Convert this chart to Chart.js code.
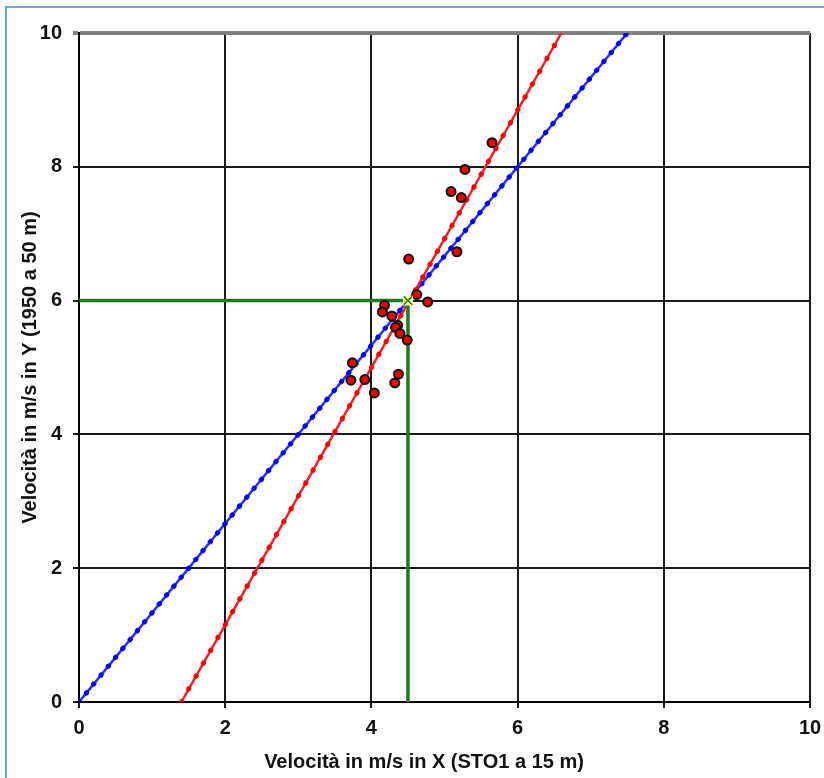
<!DOCTYPE html>
<html>
<head>
<meta charset="utf-8">
<script src="https://cdn.jsdelivr.net/npm/chart.js@4.4.1/dist/chart.umd.min.js"></script>
<style>
  html, body { margin: 0; padding: 0; background: #fff; }
  #wrap { position: relative; width: 824px; height: 778px; overflow: hidden; }
  #frame { position: absolute; left: 5px; top: 6px; width: 840px; height: 800px;
           border-left: 2px solid #6fa3dc; border-top: 2px solid #6fa3dc; }
  canvas { position: absolute; left: 0; top: 0; }
</style>
</head>
<body>
<div id="wrap">
  <div id="frame"></div>
  <canvas id="chart" width="824" height="778"></canvas>
</div>
<script>
// axis ticks
const xTicks = [0, 2, 4, 6, 8, 10];
const yTicks = [0, 2, 4, 6, 8, 10];

// regression lines (endpoints)
const blueX = [0, 7.5];
const blueY = [0, 10];
const redX = [1.4, 6.6];
const redY = [0, 10];

// green guide at the chosen point
const guideX = [0, 4.5, 4.5];
const guideY = [6, 6, 0];
const markX = [4.5];
const markY = [6];

// measured pairs
const obsX = [5.65, 5.28, 5.09, 5.23, 4.51, 5.17, 4.62, 4.77, 4.18, 4.15, 4.28,
              4.36, 4.33, 4.39, 4.49, 3.74, 3.72, 3.91, 4.37, 4.32, 4.04];
const obsY = [8.36, 7.96, 7.63, 7.54, 6.62, 6.73, 6.09, 5.98, 5.93, 5.83, 5.77,
              5.63, 5.60, 5.51, 5.41, 5.07, 4.81, 4.82, 4.90, 4.77, 4.62];

const pts = (xs, ys) => xs.map((x, i) => ({ x: x, y: ys[i] }));

const FONT = "'Liberation Sans', Arial, sans-serif";

// draw the x axis title a bit left of the plot centre, as in the source
const xTitlePlugin = {
    id: 'xTitle',
    afterDraw(chart) {
        const ctx = chart.ctx;
        ctx.save();
        ctx.font = 'bold 20px ' + FONT;
        ctx.fillStyle = '#111';
        ctx.textAlign = 'center';
        ctx.textBaseline = 'middle';
        ctx.fillText('Velocità in m/s in X (STO1 a 15 m)', 424, 762);
        ctx.restore();
    }
};

const ctx = document.getElementById('chart').getContext('2d');

new Chart(ctx, {
    type: 'scatter',
    data: {
        datasets: [
            {
                label: 'punto',
                data: pts(markX, markY),
                pointStyle: 'rect',
                pointRadius: 7,
                backgroundColor: '#ffff99',
                borderWidth: 0,
                order: 1
            },
            {
                label: 'punto x',
                data: pts(markX, markY),
                pointStyle: 'crossRot',
                pointRadius: 6,
                borderColor: '#1a7a1a',
                borderWidth: 1.5,
                order: 0
            },
            {
                label: 'misure',
                data: pts(obsX, obsY),
                pointRadius: 4.5,
                backgroundColor: '#ee0000',
                borderColor: '#111',
                borderWidth: 2,
                order: 2
            },
            {
                label: 'guida',
                data: pts(guideX, guideY),
                showLine: true,
                borderColor: '#1a7d1a',
                borderWidth: 3.5,
                pointRadius: 0,
                order: 3
            },
            {
                label: 'rossa punti',
                data: pts(redX, redY),
                showLine: true,
                borderColor: '#ff0000',
                borderWidth: 5,
                borderDash: [0.5, 14.3],
                borderCapStyle: 'round',
                pointRadius: 0,
                order: 4
            },
            {
                label: 'rossa',
                data: pts(redX, redY),
                showLine: true,
                borderColor: '#ff1a1a',
                borderWidth: 2.5,
                pointRadius: 0,
                order: 5
            },
            {
                label: 'blu punti',
                data: pts(blueX, blueY),
                showLine: true,
                borderColor: '#0000ff',
                borderWidth: 5,
                borderDash: [0.5, 11],
                borderCapStyle: 'round',
                pointRadius: 0,
                order: 6
            },
            {
                label: 'blu',
                data: pts(blueX, blueY),
                showLine: true,
                borderColor: '#2a2aff',
                borderWidth: 2.5,
                pointRadius: 0,
                order: 7
            }
        ]
    },
    options: {
        responsive: false,
        animation: false,
        events: [],
        layout: { padding: { left: 0, top: 33, right: 14, bottom: 0 } },
        plugins: {
            legend: { display: false },
            tooltip: { enabled: false }
        },
        scales: {
            x: {
                type: 'linear',
                min: 0,
                max: 10,
                afterFit: (s) => {
                    s.height = 76;
                    s.paddingLeft = 0;
                    s.paddingRight = 0;
                },
                afterBuildTicks: (s) => { s.ticks = xTicks.map(v => ({ value: v })); },
                ticks: {
                    font: { family: FONT, size: 20, weight: 'bold' },
                    color: '#111',
                    padding: 8,
                    maxRotation: 0
                },
                grid: {
                    color: '#1a1a1a',
                    lineWidth: 2,
                    tickLength: 6
                },
                border: { color: '#000', width: 2 },
                title: { display: false }
            },
            y: {
                type: 'linear',
                min: 0,
                max: 10,
                afterFit: (s) => {
                    s.width = 79;
                    s.paddingTop = 0;
                    s.paddingBottom = 0;
                },
                afterBuildTicks: (s) => { s.ticks = yTicks.map(v => ({ value: v })); },
                ticks: {
                    font: { family: FONT, size: 20, weight: 'bold' },
                    color: '#111',
                    padding: 11
                },
                grid: {
                    color: (c) => c.tick && c.tick.value === 10 ? '#7f7f7f' : '#1a1a1a',
                    lineWidth: (c) => c.tick && c.tick.value === 10 ? 4 : 2,
                    tickLength: 6
                },
                border: { color: '#000', width: 2 },
                title: {
                    display: true,
                    text: 'Velocità in m/s in Y (1950 a 50 m)',
                    font: { family: FONT, size: 20, weight: 'bold' },
                    color: '#111',
                    padding: { top: 18, bottom: 0 }
                }
            }
        }
    },
    plugins: [xTitlePlugin]
});
</script>
</body>
</html>
